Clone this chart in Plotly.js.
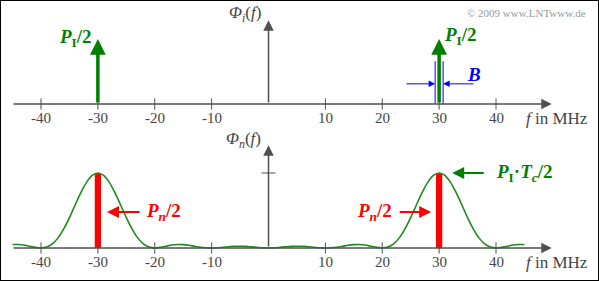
<!DOCTYPE html>
<html><head><meta charset="utf-8">
<script src="https://cdn.plot.ly/plotly-3.0.1.min.js"></script>
<style>html,body{margin:0;padding:0;background:#fff;}#plot{width:599px;height:281px;}</style>
</head><body><div id="plot"></div>
<script>
// ---- data ----
const tickVals = [-40, -30, -20, -10, 10, 20, 30, 40];
const tickText = ['-40', '-30', '-20', '-10', '10', '20', '30', '40'];
const diracPos = [-30, 30];
const diracHeight = [1, 1];
const barPos = [-30, 30];
const barHeight = [1, 1];
const barWidth = 1.1;
const bandEdges = [29.3, 30.7];
const bandHeight = 0.66;
const freq = [-45,-44,-43,-42,-41,-40,-39,-38,-37,-36,-35,-34,-33,-32,-31,-30,-29,-28,-27,-26,-25,-24,-23,-22,-21,-20,-19,-18,-17,-16,-15,-14,-13,-12,-11,-10,-9,-8,-7,-6,-5,-4,-3,-2,-1,0,1,2,3,4,5,6,7,8,9,10,11,12,13,14,15,16,17,18,19,20,21,22,23,24,25,26,27,28,29,30,31,32,33,34,35,36,37,38,39,40,41,42,43,44,45];
const phiN = [0.046,0.047,0.039,0.024,0.008,0.000,0.012,0.055,0.135,0.255,0.405,0.573,0.737,0.875,0.967,1.000,0.967,0.875,0.737,0.573,0.405,0.255,0.135,0.055,0.012,0.000,0.009,0.024,0.039,0.047,0.045,0.036,0.023,0.011,0.003,0.000,0.003,0.010,0.017,0.023,0.024,0.022,0.015,0.008,0.002,0.000,0.002,0.008,0.015,0.022,0.024,0.023,0.017,0.010,0.003,0.000,0.003,0.011,0.023,0.036,0.045,0.047,0.039,0.024,0.009,0.000,0.012,0.055,0.135,0.255,0.405,0.573,0.737,0.875,0.967,1.000,0.967,0.875,0.737,0.573,0.405,0.255,0.135,0.055,0.012,0.000,0.008,0.024,0.039,0.047,0.046];

// ---- styling ----
const SERIF = 'Liberation Serif';
const AX = '#505050';
const GREEN = '#008000';
const xr = [-268.5/5.6875, (599-268.5)/5.6875];

const tickMarker = {symbol: 'line-ns-open', size: 8, color: AX, line: {color: AX, width: 1}};
const traces = [
  {x: freq, y: phiN, xaxis: 'x2', yaxis: 'y2', mode: 'lines', line: {color: '#1e8a1e', width: 1.6, shape: 'spline', smoothing: 0.8}, hoverinfo: 'skip'},
  {x: barPos, y: barHeight, xaxis: 'x2', yaxis: 'y2', type: 'bar', width: barWidth, marker: {color: '#ff0000', line: {width: 0}}, hoverinfo: 'skip'},
  {x: tickVals, y: tickVals.map(() => 0), xaxis: 'x', yaxis: 'y', mode: 'markers', marker: tickMarker, hoverinfo: 'skip'},
  {x: tickVals, y: tickVals.map(() => 0), xaxis: 'x2', yaxis: 'y2', mode: 'markers', marker: tickMarker, hoverinfo: 'skip'},
  {x: [0], y: [1], xaxis: 'x2', yaxis: 'y2', mode: 'markers', marker: {symbol: 'line-ew-open', size: 10, color: AX, line: {color: AX, width: 1}}, hoverinfo: 'skip'},
  {x: [bandEdges[0], bandEdges[0], null, bandEdges[1], bandEdges[1]], y: [0, bandHeight, null, 0, bandHeight], xaxis: 'x', yaxis: 'y', mode: 'lines', line: {color: '#0000ff', width: 1}, hoverinfo: 'skip'}
];

function arrow(xref, yref, x, y, ax, ay, color, width, size, head) {
  return {xref: xref, yref: yref, axref: xref, ayref: yref, x: x, y: y, ax: ax, ay: ay, text: '',
    showarrow: true, arrowhead: head, arrowsize: size, arrowwidth: width, arrowcolor: color};
}
function label(xref, yref, x, y, text, color, size) {
  return {xref: xref, yref: yref, x: x, y: y, text: text, showarrow: false,
    font: {family: SERIF, size: size, color: color}, xanchor: 'center', yanchor: 'middle'};
}

const ann = [];
// axes
ann.push(arrow('x', 'y', 49.8, 0, -45.1, 0, AX, 1.5, 1.4, 2));
ann.push(arrow('x', 'y', 0, 1.29, 0, 0, AX, 1.5, 1.4, 2));
ann.push(arrow('x2', 'y2', 49.8, 0, -45.1, 0, AX, 1.5, 1.4, 2));
ann.push(arrow('x2', 'y2', 0, 1.37, 0, 0, AX, 1.5, 1.4, 2));
// Dirac arrows
diracPos.forEach((p, i) => ann.push(arrow('x', 'y', p, diracHeight[i], p, 0, GREEN, 3.5, 0.9, 2)));
// B arrows
ann.push(arrow('x', 'y', bandEdges[0], 0.31, 24.0, 0.31, '#0000ff', 1, 1.3, 2));
ann.push(arrow('x', 'y', bandEdges[1], 0.31, 36.3, 0.31, '#0000ff', 1, 1.3, 2));
// Pn/2 arrows and PI Tc/2 arrow
ann.push(arrow('x2', 'y2', -28.4, 0.48, -22.4, 0.48, '#ff0000', 2, 1.2, 2));
ann.push(arrow('x2', 'y2', 28.6, 0.48, 22.8, 0.48, '#ff0000', 2, 1.2, 2));
ann.push(arrow('x2', 'y2', 32.3, 1.0, 38.1, 1.0, GREEN, 2, 1.2, 2));
// tick labels (from tickVals / tickText) on both frequency axes
tickVals.forEach((v, i) => {
  ann.push(label('x', 'y', v, -0.215, tickText[i], '#444', 15));
  ann.push(label('x2', 'y2', v, -0.187, tickText[i], '#444', 15));
});
// labels
ann.push(label('x', 'y', -34.0, 1.02, '<b><i>P</i><sub>I</sub>/2</b>', GREEN, 19));
ann.push(label('x', 'y', 33.8, 1.05, '<b><i>P</i><sub>I</sub>/2</b>', GREEN, 19));
ann.push(label('x', 'y', 36.2, 0.45, '<b><i>B</i></b>', '#0000ff', 19));
ann.push(label('x', 'y', -4.2, 1.38, '<i>Φ</i><sub><i>i</i></sub>(<i>f</i>)', '#444', 17));
ann.push(label('x2', 'y2', -4.4, 1.44, '<i>Φ</i><sub><i>n</i></sub>(<i>f</i>)', '#444', 17));
ann.push(label('x2', 'y2', -18.5, 0.48, '<b><i>P</i><sub><i>n</i></sub>/2</b>', '#ff0000', 19));
ann.push(label('x2', 'y2', 18.7, 0.48, '<b><i>P</i><sub><i>n</i></sub>/2</b>', '#ff0000', 19));
ann.push(label('x2', 'y2', 45.0, 1.0, '<b><i>P</i><sub>I</sub>·<i>T</i><sub><i>c</i></sub>/2</b>', GREEN, 19));
ann.push(label('paper', 'paper', 557/599, 1 - 118/281, '<i>f</i> in MHz', '#444', 17));
ann.push(label('paper', 'paper', 557/599, 1 - 262/281, '<i>f</i> in MHz', '#444', 17));
ann.push({xref: 'paper', yref: 'paper', x: 588/599, y: 1 - 13/281, xanchor: 'right', yanchor: 'middle',
  text: '© 2009 www.LNTwww.de', showarrow: false, font: {family: SERIF, size: 11, color: '#999'}});

const xBase = {range: xr, showgrid: false, zeroline: false, showline: false, showticklabels: false, ticks: '', fixedrange: true};

const layout = {
  width: 599, height: 281, margin: {l: 0, r: 0, t: 0, b: 0}, paper_bgcolor: '#fff', plot_bgcolor: 'rgba(0,0,0,0)',
  font: {family: SERIF},
  showlegend: false, barmode: 'overlay',
  xaxis: Object.assign({}, xBase, {anchor: 'y'}),
  xaxis2: Object.assign({}, xBase, {anchor: 'y2'}),
  yaxis: {domain: [1 - 140/281, 1], range: [(104-140)/65, 104/65], visible: false, fixedrange: true},
  yaxis2: {domain: [0, 1 - 140/281], range: [(248-281)/75, (248-140)/75], visible: false, fixedrange: true},
  annotations: ann,
  shapes: [{type: 'rect', xref: 'paper', yref: 'paper', x0: 0, x1: 1, y0: 0, y1: 1, line: {color: '#000', width: 2}}]
};

Plotly.newPlot('plot', traces, layout, {displayModeBar: false, staticPlot: true});
</script></body></html>
